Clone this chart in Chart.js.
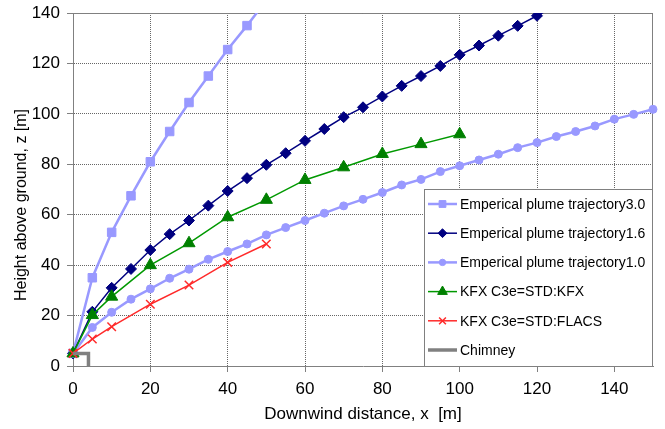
<!DOCTYPE html>
<html>
<head>
<meta charset="utf-8">
<script src="https://cdn.jsdelivr.net/npm/chart.js@4.4.1/dist/chart.umd.min.js"></script>
<style>
  html, body { margin: 0; padding: 0; background: #fff; }
</style>
</head>
<body>
<canvas id="plume" width="665" height="429"></canvas>
<script>
// values (x = downwind distance [m], z = height [m])
const xTickLabels = ['0', '20', '40', '60', '80', '100', '120', '140'];
const yTickLabels = ['0', '20', '40', '60', '80', '100', '120', '140'];

const traj30X = [0, 5, 10, 15, 20, 25, 30, 35, 40, 45, 50];
const traj30Z = [5, 35, 53, 67.5, 81, 93, 104.5, 115, 125.5, 135, 145];

const traj16X = [0, 5, 10, 15, 20, 25, 30, 35, 40, 45, 50, 55, 60, 65, 70, 75, 80, 85, 90, 95, 100, 105, 110, 115, 120, 125];
const traj16Z = [5, 21.5, 31, 38.5, 46, 52.3, 57.7, 63.6, 69.4, 74.5, 79.8, 84.4, 89.3, 94, 98.7, 102.6, 106.9, 111.1, 115, 119, 123.4, 127.1, 131, 134.9, 138.9, 143];

const traj10X = [0, 5, 10, 15, 20, 25, 30, 35, 40, 45, 50, 55, 60, 65, 70, 75, 80, 85, 90, 95, 100, 105, 110, 115, 120, 125, 130, 135, 140, 145, 150];
const traj10Z = [5, 15.3, 21.3, 26.5, 30.6, 34.8, 38.4, 42.3, 45.4, 48.4, 52, 54.9, 57.7, 60.6, 63.5, 66.1, 68.8, 71.8, 74, 77.1, 79.4, 81.7, 84, 86.6, 88.6, 91, 93, 95.2, 97.9, 99.8, 101.8];

const kfxX = [0, 5, 10, 20, 30, 40, 50, 60, 70, 80, 90, 100];
const kfxZ = [5, 20.2, 27.5, 40, 48.7, 59, 65.9, 73.8, 78.8, 84.1, 88, 91.9];

const flacsX = [0, 5, 10, 20, 30, 40, 50];
const flacsZ = [5, 10.7, 15.6, 24.5, 32.1, 41.1, 48.4];

const chimneyX = [0, 4, 4];
const chimneyZ = [5, 5, 0];

function pairs(xs, zs) {
    return xs.map((x, i) => ({ x: x, y: zs[i] }));
}

const FONT = '"Liberation Sans", Arial, sans-serif';
const clipBox = { left: 10, right: 10, top: 0, bottom: 10 };

// frame round the plot area (top and right edges)
const framePlugin = {
    id: 'frame',
    beforeDatasetsDraw(chart) {
        const { ctx, chartArea: a } = chart;
        ctx.save();
        ctx.strokeStyle = '#808080';
        ctx.lineWidth = 1;
        ctx.beginPath();
        ctx.moveTo(a.left, a.top + 0.5);
        ctx.lineTo(a.right - 0.5, a.top + 0.5);
        ctx.lineTo(a.right - 0.5, a.bottom);
        ctx.stroke();
        ctx.restore();
    }
};

// boxed legend sitting inside the plot, bottom right
const boxLegend = {
    id: 'boxLegend',
    afterDatasetsDraw(chart) {
        const { ctx, chartArea: a } = chart;
        const left = 424, top = 189;
        ctx.save();
        ctx.fillStyle = '#fff';
        ctx.fillRect(left, top, a.right - left, a.bottom - top);
        ctx.strokeStyle = '#808080';
        ctx.lineWidth = 1;
        ctx.strokeRect(left + 0.5, top + 0.5, a.right - left - 1, a.bottom - top);

        ctx.font = '14px ' + FONT;
        ctx.textBaseline = 'middle';
        ctx.textAlign = 'left';
        chart.data.datasets.forEach((ds, i) => {
            const y = 204 + i * 29.2;
            ctx.strokeStyle = ds.borderColor;
            ctx.lineWidth = ds.borderWidth;
            ctx.setLineDash([]);
            ctx.beginPath();
            ctx.moveTo(428, y);
            ctx.lineTo(457, y);
            ctx.stroke();
            if (ds.pointRadius > 0) {
                ctx.fillStyle = ds.pointBackgroundColor;
                ctx.strokeStyle = ds.pointBorderColor;
                ctx.lineWidth = ds.pointBorderWidth;
                Chart.helpers.drawPoint(ctx, {
                    pointStyle: ds.pointStyle,
                    radius: ds.pointRadius * 0.8,
                    rotation: 0,
                    borderWidth: ds.pointBorderWidth
                }, 442.5, y);
            }
            ctx.fillStyle = '#000';
            ctx.fillText(ds.label, 460, y + 1);
        });
        ctx.restore();
    }
};

// rotated y-axis title
const yTitle = {
    id: 'yTitle',
    afterDraw(chart) {
        const ctx = chart.ctx;
        ctx.save();
        ctx.translate(22, 205);
        ctx.rotate(-Math.PI / 2);
        ctx.font = '16px ' + FONT;
        ctx.fillStyle = '#000';
        ctx.textAlign = 'center';
        ctx.textBaseline = 'middle';
        ctx.fillText('Height above ground, z [m]', 0, 0);
        ctx.restore();
    }
};

const ctx = document.getElementById('plume').getContext('2d');
new Chart(ctx, {
    type: 'line',
    data: {
        datasets: [{
            label: 'Emperical plume trajectory3.0',
            data: pairs(traj30X, traj30Z),
            borderColor: '#9999ff',
            borderWidth: 2.5,
            pointStyle: 'rect',
            pointRadius: 6,
            pointBackgroundColor: '#9999ff',
            pointBorderColor: '#9999ff',
            pointBorderWidth: 1,
            clip: clipBox,
            order: 6
        }, {
            label: 'Emperical plume trajectory1.6',
            data: pairs(traj16X, traj16Z),
            borderColor: '#000080',
            borderWidth: 1.5,
            pointStyle: 'rectRot',
            pointRadius: 5.5,
            pointBackgroundColor: '#000080',
            pointBorderColor: '#000080',
            pointBorderWidth: 1,
            clip: clipBox,
            order: 5
        }, {
            label: 'Emperical plume trajectory1.0',
            data: pairs(traj10X, traj10Z),
            borderColor: '#9999ff',
            borderWidth: 2.5,
            pointStyle: 'circle',
            pointRadius: 4,
            pointBackgroundColor: '#9999ff',
            pointBorderColor: '#9999ff',
            pointBorderWidth: 1,
            clip: clipBox,
            order: 4
        }, {
            label: 'KFX C3e=STD:KFX',
            data: pairs(kfxX, kfxZ),
            borderColor: '#009900',
            borderWidth: 1.5,
            pointStyle: 'triangle',
            pointRadius: 7,
            pointBackgroundColor: '#008000',
            pointBorderColor: '#008000',
            pointBorderWidth: 1,
            clip: clipBox,
            order: 3
        }, {
            label: 'KFX C3e=STD:FLACS',
            data: pairs(flacsX, flacsZ),
            borderColor: '#ff2a2a',
            borderWidth: 1.5,
            pointStyle: 'crossRot',
            pointRadius: 6,
            pointBackgroundColor: '#ff2a2a',
            pointBorderColor: '#ff2a2a',
            pointBorderWidth: 1.5,
            clip: clipBox,
            order: 2
        }, {
            label: 'Chimney',
            data: pairs(chimneyX, chimneyZ),
            borderColor: '#808080',
            borderWidth: 3.5,
            pointRadius: 0,
            clip: clipBox,
            order: 1
        }]
    },
    options: {
        responsive: false,
        animation: false,
        events: [],
        layout: { padding: { left: 0, top: 13, right: 12, bottom: 0 } },
        plugins: {
            legend: { display: false },
            tooltip: { enabled: false }
        },
        elements: { line: { tension: 0 } },
        scales: {
            x: {
                type: 'linear',
                min: 0,
                max: 150,
                afterFit(scale) {
                    scale.height = 63;
                    scale.paddingLeft = 0;
                    scale.paddingRight = 0;
                },
                ticks: {
                    stepSize: 20,
                    includeBounds: false,
                    padding: 7,
                    color: '#000',
                    font: { family: FONT, size: 17 },
                    callback: (v) => xTickLabels[v / 20]
                },
                grid: {
                    color: '#666',
                    lineWidth: 1,
                    tickLength: 6,
                    tickColor: '#808080',
                    tickBorderDash: []
                },
                border: { display: true, color: '#808080', width: 1, dash: [1, 1] },
                title: {
                    display: true,
                    text: 'Downwind distance, x  [m]',
                    color: '#000',
                    font: { family: FONT, size: 17 },
                    padding: { top: 0, bottom: 4 }
                }
            },
            y: {
                type: 'linear',
                min: 0,
                max: 140,
                afterFit(scale) {
                    scale.width = 73;
                    scale.paddingTop = 0;
                    scale.paddingBottom = 0;
                },
                ticks: {
                    stepSize: 20,
                    padding: 7,
                    color: '#000',
                    font: { family: FONT, size: 17 },
                    callback: (v) => yTickLabels[v / 20]
                },
                grid: {
                    color: '#666',
                    lineWidth: 1,
                    tickLength: 6,
                    tickColor: '#808080',
                    tickBorderDash: []
                },
                border: { display: true, color: '#808080', width: 1, dash: [1, 1] }
            }
        }
    },
    plugins: [framePlugin, boxLegend, yTitle]
});
</script>
</body>
</html>
